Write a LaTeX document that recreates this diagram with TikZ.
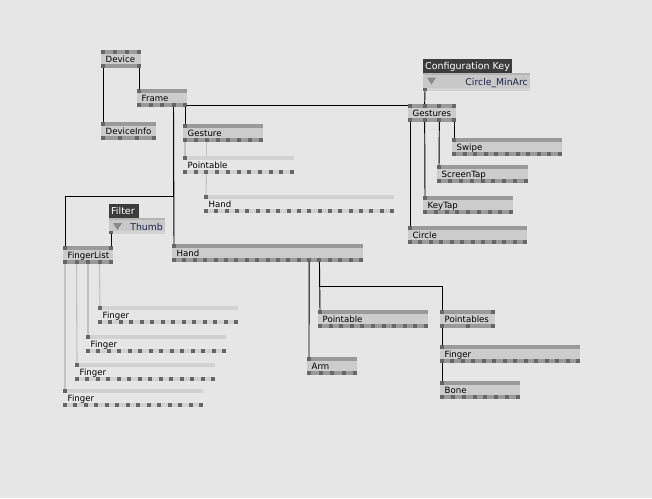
\documentclass[tikz,border=0pt]{standalone}
\usepackage{fontspec}
\setmainfont{DejaVu Sans}
\usetikzlibrary{calc}
\definecolor{bg}{HTML}{E6E6E6}
\definecolor{bodyc}{HTML}{CCCCCC}
\definecolor{barc}{HTML}{9A9A9A}
\definecolor{pinc}{HTML}{676767}
\definecolor{ghostc}{HTML}{D2D2D2}
\definecolor{glinkc}{HTML}{C2C2C2}
\definecolor{labc}{HTML}{3C3C3C}
\definecolor{ioc}{HTML}{C8C8C8}
\definecolor{iotop}{HTML}{B4B4B4}
\definecolor{iobot}{HTML}{D4D4D4}
\definecolor{triac}{HTML}{8A8A8A}
\definecolor{iotext}{HTML}{1C2448}
\pgfdeclarelayer{bglayer}
\pgfsetlayers{bglayer,main}
\tikzset{
  nodetext/.style={anchor=base west, inner sep=0pt, font=\fontsize{8.6}{10}\selectfont, text=black},
  labtext/.style={anchor=base west, inner sep=0pt, font=\fontsize{9.5}{11}\selectfont, text=white},
  iotxt/.style={anchor=base east, inner sep=0pt, font=\fontsize{9.3}{11}\selectfont, text=iotext},
  frame/.style={inner sep=0pt, anchor=north west, draw=none},
  link/.style={draw=black, line width=0.95pt},
  ghostlink/.style={draw=glinkc, line width=1.1pt}
}
% pins: prefix, x, y, w, n, colour, offset of the connection point
\newcommand{\vvpins}[7]{%
  \foreach \k in {1,...,#5}{%
    \pgfmathsetmacro\vvpx{#2+(\k-1)*(#4-4)/max(#5-1,1)}%
    \fill[#6] (\vvpx,#3) rectangle ++(4,4);%
    \coordinate (#1\k) at (\vvpx+2,#3+#7);%
  }}
% full node: name, x, y, w, text, ntop, nbottom
\newcommand{\vvnode}[7]{%
  \node[frame, minimum width=#4pt, minimum height=18pt] (#1) at (#2,#3) {};
  \fill[barc] (#2,#3) rectangle ++(#4,4);
  \fill[bodyc] (#2,#3+4) rectangle ++(#4,10);
  \fill[barc] (#2,#3+14) rectangle ++(#4,4);
  \vvpins{#1-i}{#2}{#3}{#4}{#6}{pinc}{0}
  \vvpins{#1-o}{#2}{#3+14}{#4}{#7}{pinc}{4}
  \node[nodetext] (#1-t) at (#2+4.5,#3+12) {#5};
}
% ghost node: name, x, y, w, text, nbottom
\newcommand{\vvghost}[6]{%
  \node[frame, minimum width=#4pt, minimum height=18pt] (#1) at (#2,#3) {};
  \fill[ghostc] (#2,#3) rectangle ++(#4,4);
  \vvpins{#1-i}{#2}{#3}{#4}{1}{pinc}{0}
  \fill[ghostc] (#2,#3+14) rectangle ++(#4,4);
  \vvpins{#1-o}{#2}{#3+14}{#4}{#6}{pinc}{4}
  \node[nodetext] (#1-t) at (#2+4.5,#3+12) {#5};
}
% label: name, x, y, w, text
\newcommand{\vvlabel}[5]{%
  \node[frame, minimum width=#4pt, minimum height=14pt, fill=labc] (#1) at (#2,#3) {};
  \node[labtext] (#1-t) at (#2+2,#3+10.5) {#5};
}
% iobox: name, x, y, w, h, text
\newcommand{\vvio}[6]{%
  \node[frame, minimum width=#4pt, minimum height=#5pt] (#1) at (#2,#3) {};
  \fill[ioc] (#2,#3) rectangle ++(#4,#5);
  \fill[iotop] (#2,#3) rectangle ++(#4,2);
  \fill[iobot] (#2,#3+#5-3) rectangle ++(#4,3);
  \fill[pinc] (#2,#3+#5-3) rectangle ++(4,3);
  \coordinate (#1-o1) at (#2+2,#3+#5);
  \fill[triac] (#2+4,#3+5) -- ++(9,0) -- ++(-4.5,7) -- cycle;
  \node[iotxt] (#1-t) at (#2+#4-2,#3+12.5) {#6};
}
\begin{document}
\begin{tikzpicture}[x=1pt,y=-1pt]
\begin{pgfonlayer}{bglayer}
\fill[bg] (0,0) rectangle (652,498);
\end{pgfonlayer}
\useasboundingbox (0,0) rectangle (652,498);

% nodes
\vvnode{Device}{101}{50}{40}{Device}{4}{2}
\vvnode{DeviceInfo}{101}{122}{55}{DeviceInfo}{1}{4}
\vvnode{Frame}{137}{89}{50}{Frame}{1}{5}
\vvnode{Gesture}{183}{124}{80}{Gesture}{1}{8}
\vvghost{gPointable}{183}{156}{111}{Pointable}{11}
\vvghost{gHand}{204}{195}{190}{Hand}{19}
\vvnode{Gestures}{408}{104}{48}{Gestures}{4}{4}
\vvlabel{ckLabel}{423}{59}{89}{Configuration Key}
\vvio{ck}{423}{72.5}{107}{18.5}{Circle\_MinArc}
\vvnode{Swipe}{452}{138}{110}{Swipe}{1}{11}
\vvnode{ScreenTap}{437}{165}{91}{ScreenTap}{1}{9}
\vvnode{KeyTap}{423}{196}{90}{KeyTap}{1}{9}
\vvnode{Circle}{408}{226}{119}{Circle}{1}{12}
\vvlabel{filterLabel}{109}{204}{30}{Filter}
\vvio{thumb}{109}{218}{56}{16}{Thumb}
\vvnode{FingerList}{63}{246}{50}{FingerList}{2}{5}
\vvnode{Hand}{172}{244}{191}{Hand}{1}{19}
\vvghost{gFinger1}{98}{306}{140}{Finger}{14}
\vvghost{gFinger2}{86}{335}{140}{Finger}{14}
\vvghost{gFinger3}{75}{363}{140}{Finger}{14}
\vvghost{gFinger4}{63}{389}{140}{Finger}{14}
\vvnode{Pointable}{318}{310}{110}{Pointable}{1}{11}
\vvnode{Pointables}{440}{310}{55}{Pointables}{2}{3}
\vvnode{Finger}{440}{345}{140}{Finger}{1}{14}
\vvnode{Bone}{440}{381}{80}{Bone}{1}{8}
\vvnode{Arm}{307}{357}{50}{Arm}{1}{5}

\coordinate (flbend) at ($(FingerList-i1)+(0,-50)$);
\coordinate (pbend) at ($(Pointables-i1)+(0,-24)$);

% links
\begin{pgfonlayer}{bglayer}
\draw[link] (Device-o1) -- (DeviceInfo-i1);
\draw[link] (Device-o2) -- (Frame-i1);
\draw[link] (Frame-o5) -- (Gesture-i1);
\draw[link] ([yshift=2pt]Frame-o5) -| (Gestures-i1);
\draw[link] (Frame-o4) -- (Hand-i1);
\draw[link] (Frame-o4) |- (flbend) -- (FingerList-i1);
\draw[link] (ck-o1) -- (Gestures-i2);
\draw[link] (thumb-o1) -- (FingerList-i2);
\draw[link] (Gestures-o1) -- (Circle-i1);
\draw[link] (Gestures-o2) -- (KeyTap-i1);
\draw[link] (Gestures-o3) -- (ScreenTap-i1);
\draw[link] (Gestures-o4) -- (Swipe-i1);
\draw[link] (Hand-o14) -- (Arm-i1);
\draw[link] (Hand-o15) -- (Pointable-i1);
\draw[link] (Hand-o15) |- (pbend) -- (Pointables-i1);
\draw[link] (Pointables-o1) -- (Finger-i1);
\draw[link] (Finger-o1) -- (Bone-i1);
\draw[ghostlink] (Gesture-o1) -- (gPointable-i1);
\draw[ghostlink] (Gesture-o3) -- (Gesture-o3 |- gPointable.north);
\draw[ghostlink] (gPointable-o3) -- (gHand-i1);
\draw[ghostlink] (FingerList-o1) -- (gFinger4-i1);
\draw[ghostlink] (FingerList-o2) -- (gFinger3-i1);
\draw[ghostlink] (FingerList-o3) -- (gFinger2-i1);
\draw[ghostlink] (FingerList-o4) -- (gFinger1-i1);
\end{pgfonlayer}
\end{tikzpicture}
\end{document}
